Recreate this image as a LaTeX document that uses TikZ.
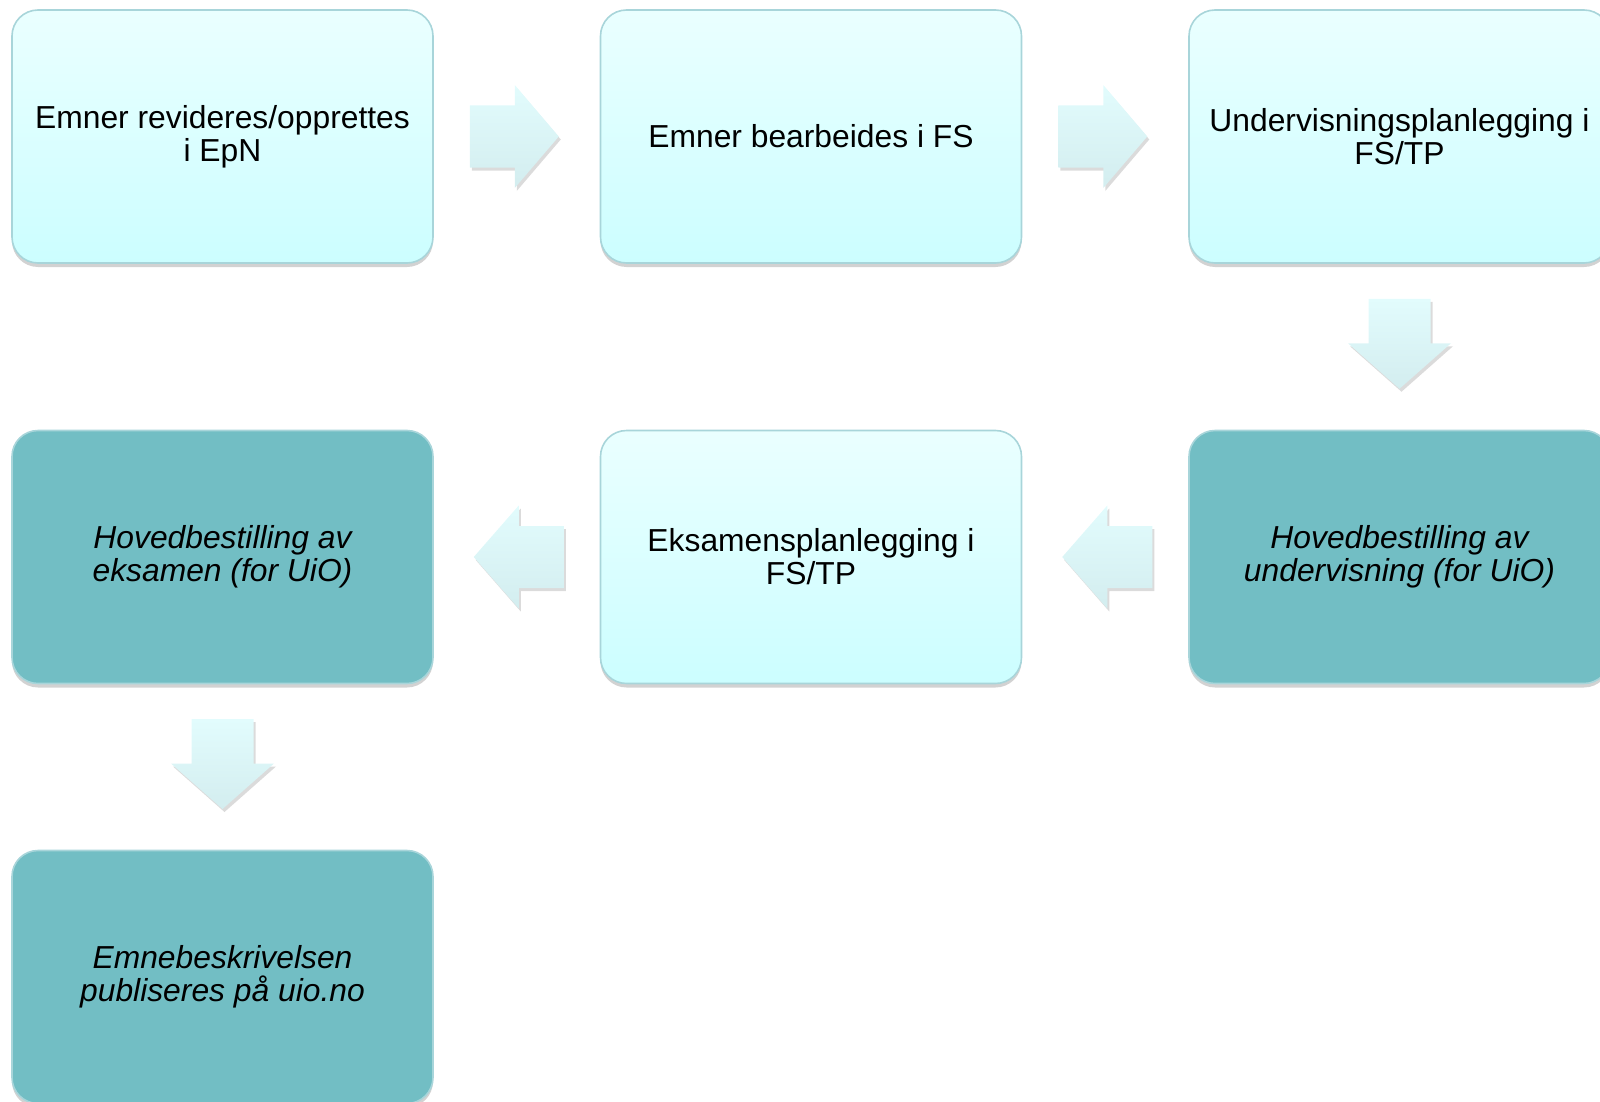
\documentclass[tikz,border=0pt]{standalone}
\usepackage{fontspec}
\setmainfont{Liberation Sans}
\usetikzlibrary{calc,shadows}
\definecolor{lighttop}{HTML}{EAFFFF}
\definecolor{lightbot}{HTML}{CCFEFF}
\definecolor{boxline}{HTML}{A8D5DA}
\definecolor{darkfill}{HTML}{72BEC4}
\definecolor{arrtop}{HTML}{E2FCFD}
\definecolor{arrbot}{HTML}{D3EDEF}
\begin{document}
\begin{tikzpicture}[x=0.5pt,y=-0.5pt,
  stage/.style={rounded corners=13pt, minimum width=210.5pt, minimum height=126.5pt,
    draw=boxline, line width=0.8pt, align=center, inner sep=0pt,
    font=\fontsize{15.9}{16.5}\selectfont,
    drop shadow={shadow xshift=0pt, shadow yshift=-2pt, opacity=0.25, fill=black!70}},
  lightstage/.style={stage, top color=lighttop, bottom color=lightbot},
  darkstage/.style={stage, fill=darkfill, font=\fontsize{15.9}{16.5}\selectfont\itshape},
  blockarrow/.style={top color=arrtop, bottom color=arrbot, draw=none,
    drop shadow={shadow xshift=1pt, shadow yshift=-1.5pt, opacity=0.2, fill=black!70}}
]
\useasboundingbox (0,0) rectangle (1600,1102);

\node[lightstage] (b1) at (222.5,136.5) {Emner revideres/opprettes\\i EpN};
\node[lightstage] (b2) at (811,136.5) {Emner bearbeides i FS};
\node[lightstage] (b3) at (1399.5,136.5) {Undervisningsplanlegging i\\FS/TP};
\node[darkstage] (b4) at (1399.5,557) {Hovedbestilling av\\undervisning (for UiO)};
\node[lightstage] (b5) at (811,557) {Eksamensplanlegging i\\FS/TP};
\node[darkstage] (b6) at (222.5,557) {Hovedbestilling av\\eksamen (for UiO)};
\node[darkstage] (b7) at (222.5,977) {Emnebeskrivelsen\\publiseres på uio.no};

\coordinate (m12) at ($(b1.east)!0.5!(b2.west)$);
\coordinate (m23) at ($(b2.east)!0.5!(b3.west)$);
\coordinate (m34) at ($(b3.south)!0.5!(b4.north)$);
\coordinate (m45) at ($(b4.west)!0.5!(b5.east)$);
\coordinate (m56) at ($(b5.west)!0.5!(b6.east)$);
\coordinate (m67) at ($(b6.south)!0.5!(b7.north)$);

% right-pointing arrows
\path[blockarrow, shift={(m12)}] (-47,-31) -- (-2,-31) -- (-2,-51.5) -- (42,0) -- (-2,51.5) -- (-2,31) -- (-47,31) -- cycle;
\path[blockarrow, shift={(m23)}] (-47,-31) -- (-2,-31) -- (-2,-51.5) -- (42,0) -- (-2,51.5) -- (-2,31) -- (-47,31) -- cycle;
% down-pointing arrows
\path[blockarrow, shift={(m34)}] (-31,-48) -- (-31,-3.5) -- (-51.5,-3.5) -- (0,42) -- (51.5,-3.5) -- (31,-3.5) -- (31,-48) -- cycle;
\path[blockarrow, shift={(m67)}] (-31,-48) -- (-31,-3.5) -- (-51.5,-3.5) -- (0,42) -- (51.5,-3.5) -- (31,-3.5) -- (31,-48) -- cycle;
% left-pointing arrows
\path[blockarrow, shift={(m45)}] (47,-31) -- (2,-31) -- (2,-51.5) -- (-43,0) -- (2,51.5) -- (2,31) -- (47,31) -- cycle;
\path[blockarrow, shift={(m56)}] (47,-31) -- (2,-31) -- (2,-51.5) -- (-43,0) -- (2,51.5) -- (2,31) -- (47,31) -- cycle;
\end{tikzpicture}
\end{document}
